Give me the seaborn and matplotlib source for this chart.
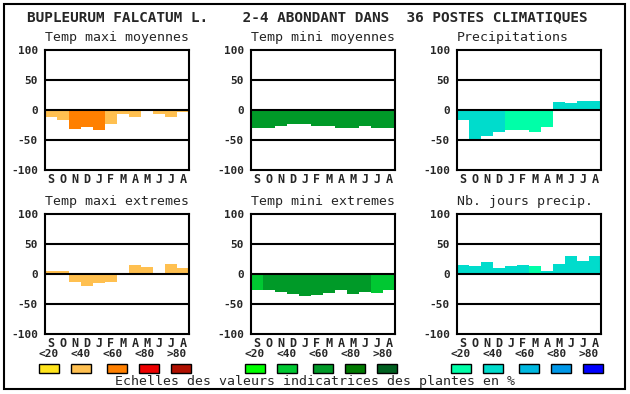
import matplotlib
matplotlib.use('Agg')
import matplotlib.pyplot as plt
import seaborn as sns
from matplotlib.patches import Rectangle

months = ['S', 'O', 'N', 'D', 'J', 'F', 'M', 'A', 'M', 'J', 'J', 'A']

temp_maxi_moy = [-12, -16, -31, -28, -33, -23, -6, -11, 0, -6, -11, -4]
temp_mini_moy = [-30, -30, -27, -23, -24, -26, -26, -30, -30, -27, -30, -30]
precip = [-16, -49, -44, -36, -33, -33, -36, -28, 14, 11, 15.5, 15.5]
temp_maxi_ext = [5.5, 5.5, -14, -20.5, -15.5, -14, 2, 15.5, 12, 2, 17, 10.5]
temp_mini_ext = [-27, -27, -30.5, -34, -37, -35.5, -32, -27, -34, -30.5, -32, -27]
jours_precip = [15.5, 14, 20.5, 10.5, 14, 15.5, 14, 5.5, 17, 30.5, 22, 30.5]

# classe d'abondance (index dans l'echelle) pour chaque mois
cls_maxi_moy = [1, 1, 2, 2, 2, 1, 1, 1, 1, 1, 1, 1]
cls_mini_moy = [2] * 12
cls_precip = [1, 1, 1, 1, 0, 0, 0, 0, 1, 1, 1, 1]
cls_maxi_ext = [1] * 12
cls_mini_ext = [1, 2, 2, 2, 2, 2, 2, 2, 2, 2, 1, 1]
cls_jours = [1, 1, 1, 1, 1, 1, 0, 1, 1, 1, 1, 1]

scale_labels = ['<20', '<40', '<60', '<80', '>80']
pal_maxi = ['#FFE41C', '#FFC050', '#FF8000', '#EE0000', '#B01000']
pal_mini = ['#00FF00', '#00C832', '#009A28', '#007A00', '#006020']
pal_precip = ['#00FFA8', '#00DCCC', '#00B8E0', '#0098E8', '#0000FF']

W, H = 630, 394
MONO = 'DejaVu Sans Mono'

sns.set_style('white')
plt.rcParams['font.family'] = [MONO]

fig = plt.figure(figsize=(W / 100, H / 100), dpi=100)


def fx(x):
    return x / W


def fy(y):
    return 1 - y / H


panels = [
    ('Temp maxi moyennes', temp_maxi_moy, cls_maxi_moy, pal_maxi, 45, 50),
    ('Temp mini moyennes', temp_mini_moy, cls_mini_moy, pal_mini, 251, 50),
    ('Precipitations', precip, cls_precip, pal_precip, 457, 50),
    ('Temp maxi extremes', temp_maxi_ext, cls_maxi_ext, pal_maxi, 45, 214),
    ('Temp mini extremes', temp_mini_ext, cls_mini_ext, pal_mini, 251, 214),
    ('Nb. jours precip.', jours_precip, cls_jours, pal_precip, 457, 214),
]

for title, vals, cls, pal, left, top in panels:
    ax = fig.add_axes([fx(left), fy(top + 120), 144 / W, 120 / H])
    colors = [pal[c] for c in cls]
    idx = list(range(len(months)))
    sns.barplot(x=idx, y=vals, hue=idx, palette=colors, legend=False,
                width=1.0, saturation=1, linewidth=0, ax=ax)
    for v in (-50, 0, 50):
        ax.axhline(v, color='black', lw=1.5, zorder=5)
    ax.set_xlim(-0.5, 11.5)
    ax.set_ylim(-100, 100)
    ax.set_yticks([100, 50, 0, -50, -100])
    ax.set_yticklabels(['100', '50', '0', '-50', '-100'],
                       fontweight='bold', fontsize=8)
    ax.set_xticks(idx)
    ax.set_xticklabels(months, fontweight='bold', fontsize=8.5)
    ax.tick_params(length=0)
    ax.tick_params(axis='y', pad=5)
    ax.tick_params(axis='x', pad=2)
    ax.set_xlabel('')
    ax.set_ylabel('')
    for s in ax.spines.values():
        s.set_visible(True)
        s.set_color('black')
        s.set_linewidth(1.5)
    fig.text(fx(left), fy(top - 12), title, fontsize=9.5,
             ha='left', va='center')

fig.text(fx(27), fy(17),
         'BUPLEURUM FALCATUM L.    2-4 ABONDANT DANS  36 POSTES CLIMATIQUES',
         fontsize=10.4, fontweight='bold', ha='left', va='center')

for pal, x0 in [(pal_maxi, 39), (pal_mini, 245), (pal_precip, 451)]:
    for i, (lab, col) in enumerate(zip(scale_labels, pal)):
        bx = x0 + [0, 32, 68, 100, 132][i]
        tx = x0 + 32 * i
        fig.text(fx(tx + 10), fy(354), lab, fontsize=8, fontweight='bold',
                 ha='center', va='center')
        fig.patches.append(Rectangle((fx(bx), fy(373)), 20 / W, 9 / H,
                                     facecolor=col, edgecolor='black', lw=1,
                                     transform=fig.transFigure, figure=fig))

fig.text(fx(315), fy(382), 'Echelles des valeurs indicatrices des plantes en %',
         fontsize=9.5, ha='center', va='center')

fig.patches.append(Rectangle((fx(4), fy(389)), 621 / W, 385 / H, fill=False,
                             edgecolor='black', lw=1.5,
                             transform=fig.transFigure, figure=fig))

fig.savefig('out.png', dpi=100)
